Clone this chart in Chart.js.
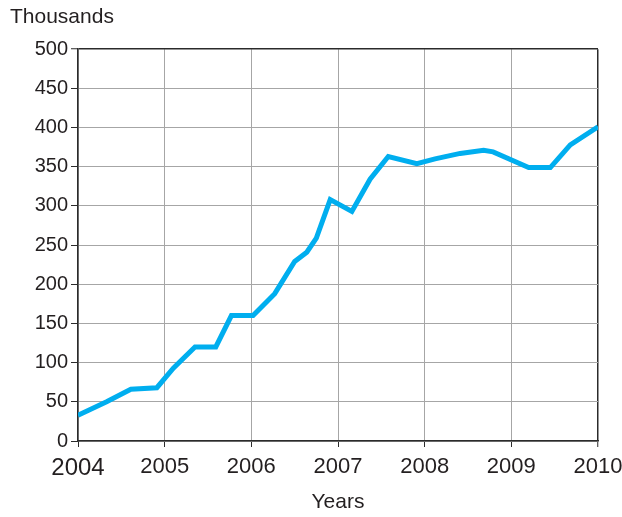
<!DOCTYPE html>
<html>
<head>
<meta charset="utf-8">
<script src="https://cdn.jsdelivr.net/npm/chart.js@4/dist/chart.umd.min.js"></script>
<style>
  html, body { margin: 0; padding: 0; background: #fff; }
  #wrap { width: 622px; height: 517px; }
</style>
</head>
<body>
<div id="wrap"><canvas id="myChart" width="622" height="517"></canvas></div>
<script>
// values (x in years, y in thousands)
var years = [2004.0, 2004.33, 2004.61, 2004.91, 2005.10, 2005.35, 2005.59, 2005.77,
             2006.02, 2006.27, 2006.50, 2006.64, 2006.75, 2006.91, 2007.16, 2007.37,
             2007.58, 2007.91, 2008.12, 2008.41, 2008.68, 2008.79, 2009.20, 2009.45,
             2009.68, 2010.0];
var values = [33, 50, 66, 68, 93, 120, 120, 160,
              160, 188, 229, 241, 259, 308, 293, 334,
              363, 354, 360, 367, 371, 369, 349, 349,
              378, 401];
var xTicks = [2004, 2005, 2006, 2007, 2008, 2009, 2010];
var yTicks = [0, 50, 100, 150, 200, 250, 300, 350, 400, 450, 500];

var fontFamily = "'Liberation Sans', Arial, sans-serif";
var textColor = '#231f20';
var axisColor = '#2b2b2b';
var gridColor = '#a6a6a6';

(function () {
    var points = [];
    for (var i = 0; i < years.length; i++) {
        points.push({ x: years[i], y: values[i] });
    }

    var ctx = document.getElementById('myChart');
    var myChart = new Chart(ctx, {
        type: 'line',
        data: {
            datasets: [{
                data: points,
                borderColor: 'rgb(0, 174, 239)',
                borderWidth: 5,
                pointRadius: 0,
                tension: 0,
                fill: false
            }]
        },
        options: {
            responsive: false,
            animation: false,
            layout: { padding: { left: 10, right: 24, top: 0, bottom: 0 } },
            plugins: {
                legend: { display: false },
                tooltip: { enabled: false },
                title: {
                    display: true,
                    text: 'Thousands',
                    align: 'start',
                    color: textColor,
                    font: { family: fontFamily, size: 21, weight: 'normal', lineHeight: 1.2 },
                    padding: { top: 5, bottom: 19 }
                }
            },
            scales: {
                x: {
                    type: 'linear',
                    min: 2004,
                    max: 2010,
                    afterBuildTicks: function (scale) {
                        scale.ticks = xTicks.map(function (v) { return { value: v }; });
                    },
                    afterFit: function (scale) {
                        scale.height = 76;
                        scale.paddingLeft = 0;
                        scale.paddingRight = 0;
                    },
                    ticks: {
                        color: textColor,
                        padding: 7,
                        maxRotation: 0,
                        callback: function (v) { return String(v); },
                        font: function (c) {
                            var big = c.tick && c.tick.value === 2004;
                            return { family: fontFamily, size: big ? 24 : 22 };
                        }
                    },
                    grid: {
                        color: function (c) {
                            return (c.tick && c.tick.value === 2010) ? axisColor : gridColor;
                        },
                        lineWidth: function (c) {
                            return (c.tick && c.tick.value === 2010) ? 1.5 : 1;
                        },
                        tickColor: axisColor,
                        tickLength: 6,
                        tickWidth: 1
                    },
                    border: { color: axisColor, width: 1.5 },
                    title: {
                        display: true,
                        text: 'Years',
                        color: textColor,
                        font: { family: fontFamily, size: 21, lineHeight: 1.2 },
                        padding: { top: 0, bottom: 2 }
                    }
                },
                y: {
                    min: 0,
                    max: 500,
                    afterBuildTicks: function (scale) {
                        scale.ticks = yTicks.map(function (v) { return { value: v }; });
                    },
                    afterFit: function (scale) { scale.width = 68; },
                    ticks: {
                        color: textColor,
                        padding: 3,
                        font: { family: fontFamily, size: 20 }
                    },
                    grid: {
                        color: function (c) {
                            return (c.tick && c.tick.value === 500) ? axisColor : gridColor;
                        },
                        lineWidth: function (c) {
                            return (c.tick && c.tick.value === 500) ? 1.5 : 1;
                        },
                        tickColor: axisColor,
                        tickLength: 7,
                        tickWidth: 1
                    },
                    border: { color: axisColor, width: 1.5 }
                }
            }
        }
    });
}());
</script>
</body>
</html>
